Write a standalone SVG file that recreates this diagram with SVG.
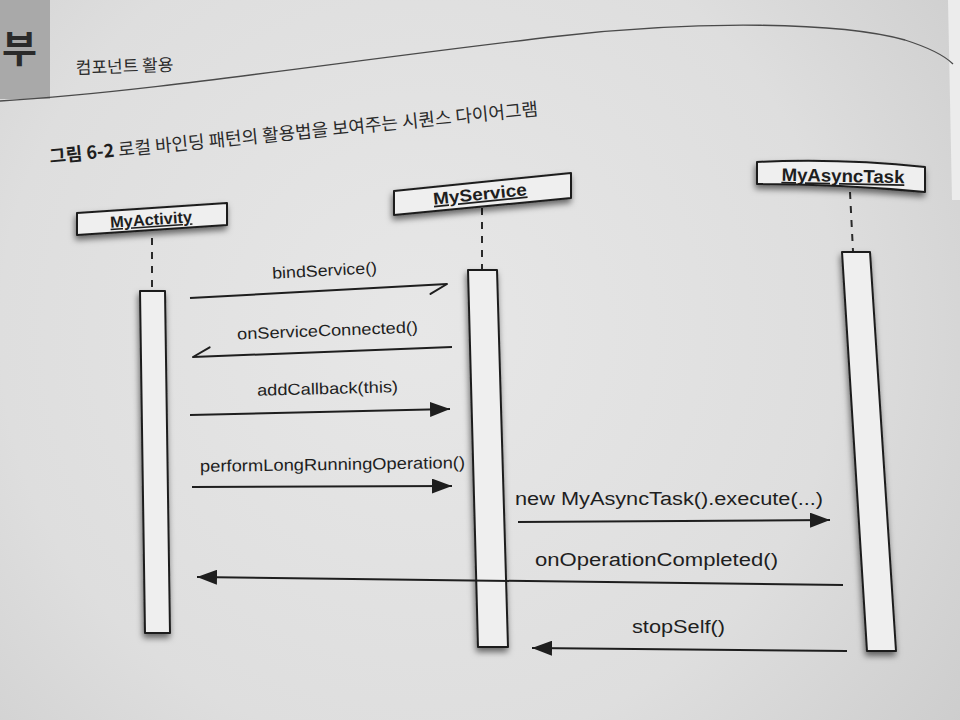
<svg xmlns="http://www.w3.org/2000/svg" width="960" height="720" viewBox="0 0 960 720">
  <defs>
    <radialGradient id="page" cx="420" cy="330" r="700" gradientUnits="userSpaceOnUse">
      <stop offset="0" stop-color="#e7e7e7"/>
      <stop offset="0.6" stop-color="#dedede"/>
      <stop offset="1" stop-color="#cbcbcb"/>
    </radialGradient>
    <filter id="shadow" x="-40%" y="-40%" width="180%" height="180%">
      <feDropShadow dx="-1" dy="4" stdDeviation="3" flood-color="#000" flood-opacity="0.55"/>
    </filter>
    <marker id="arr" markerWidth="20" markerHeight="15" refX="20" refY="7.5" orient="auto" markerUnits="userSpaceOnUse">
      <path d="M0,0 L20,7.5 L0,15 Z" fill="#1e1e1e"/>
    </marker>
    <marker id="half" markerWidth="22" markerHeight="14" refX="19" refY="2" orient="auto" markerUnits="userSpaceOnUse">
      <path d="M19,2 L2,11" stroke="#1e1e1e" stroke-width="2" fill="none" stroke-linecap="round"/>
    </marker>
    <style>
      .box { fill: #efefef; stroke: #1e1e1e; stroke-width: 2; stroke-linejoin: round; }
      .life { stroke: #2a2a2a; stroke-width: 2; stroke-dasharray: 7 7; fill: none; }
      .title { font-family: "Liberation Sans", Arial, sans-serif; font-weight: bold; fill: #1e1e1e; text-anchor: middle; text-decoration: underline; }
      .msg { stroke: #1e1e1e; stroke-width: 2; fill: none; }
      .lbl { font-family: "Liberation Sans", Arial, sans-serif; fill: #1e1e1e; }
      .kr { font-family: "Noto Sans CJK KR", "Noto Sans", sans-serif; fill: #2a2a2a; }
    </style>
  </defs>

  <!-- page -->
  <rect x="0" y="0" width="960" height="720" fill="url(#page)"/>
  <path d="M948,0 L960,0 L960,200 L952,200 Z" fill="#ececec"/>
  <rect x="0" y="0" width="50" height="99" fill="#a9a9a9"/>
  <text x="2" y="62" font-size="38" font-weight="bold" class="kr" fill="#1a1a1a">부</text>
  <path d="M0,101 C150,92 350,60 560,36 C700,20 840,22 905,40 C930,48 945,56 953,64" fill="none" stroke="#4a4a4a" stroke-width="1.3"/>
  <text x="76" y="74" font-size="17" class="kr" transform="rotate(-2 76 74)">컴포넌트 활용</text>
  <text x="50" y="163" font-size="18" class="kr" transform="rotate(-5.6 50 163)"><tspan font-weight="bold" fill="#1e1e1e">그림 6-2</tspan> 로컬 바인딩 패턴의 활용법을 보여주는 시퀀스 다이어그램</text>

  <g id="node-myactivity">
    <line class="life" x1="152" y1="238" x2="152" y2="290"/>
    <polygon class="box" points="77,213 227,203 227,225 77,235" filter="url(#shadow)"/>
    <text class="title" x="151" y="225" font-size="16" textLength="82" lengthAdjust="spacingAndGlyphs" transform="rotate(-3.8 151 219)">MyActivity</text>
    <polygon class="box" points="140,291 165,291 170,633 145,633" filter="url(#shadow)"/>
  </g>

  <g id="node-myservice">
    <line class="life" x1="482" y1="208" x2="482" y2="269"/>
    <polygon class="box" points="394,191 571,173 571,198 394,215" filter="url(#shadow)"/>
    <text class="title" x="480" y="200" font-size="17" textLength="94" lengthAdjust="spacingAndGlyphs" transform="rotate(-5.8 480 194)">MyService</text>
    <polygon class="box" points="468,270 497,270 508,647 478,647" filter="url(#shadow)"/>
  </g>

  <g id="node-myasynctask">
    <line class="life" x1="850" y1="192" x2="853" y2="251"/>
    <path class="box" d="M757,162 Q840,158 925,167 L925,192 Q840,184 757,184 Z" filter="url(#shadow)"/>
    <text class="title" x="843" y="182" font-size="18" textLength="123" lengthAdjust="spacingAndGlyphs" transform="rotate(1.2 843 176)">MyAsyncTask</text>
    <polygon class="box" points="842,252 870,252 896,651 867,651" filter="url(#shadow)"/>
  </g>

  <g id="connectors">
    <line class="msg" x1="190" y1="298" x2="447" y2="284" marker-end="url(#half)"/>
    <text class="lbl" x="272" y="276" font-size="16" textLength="105" lengthAdjust="spacingAndGlyphs" transform="rotate(-3 324 270)">bindService()</text>

    <line class="msg" x1="452" y1="347" x2="193" y2="357" marker-end="url(#half)"/>
    <text class="lbl" x="237" y="336" font-size="16" textLength="181" lengthAdjust="spacingAndGlyphs" transform="rotate(-2.2 327 330)">onServiceConnected()</text>

    <line class="msg" x1="190" y1="415" x2="450" y2="409" marker-end="url(#arr)"/>
    <text class="lbl" x="257" y="394" font-size="16" textLength="141" lengthAdjust="spacingAndGlyphs" transform="rotate(-1.5 327 388)">addCallback(this)</text>

    <line class="msg" x1="192" y1="487" x2="452" y2="486" marker-end="url(#arr)"/>
    <text class="lbl" x="200" y="470" font-size="16.5" textLength="265" lengthAdjust="spacingAndGlyphs" transform="rotate(-0.8 332 465)">performLongRunningOperation()</text>

    <line class="msg" x1="518" y1="522" x2="830" y2="520" marker-end="url(#arr)"/>
    <text class="lbl" x="515" y="505" font-size="18" textLength="308" lengthAdjust="spacingAndGlyphs">new MyAsyncTask().execute(...)</text>

    <line class="msg" x1="843" y1="585" x2="197" y2="577" marker-end="url(#arr)"/>
    <text class="lbl" x="535" y="566" font-size="18" textLength="243" lengthAdjust="spacingAndGlyphs">onOperationCompleted()</text>

    <line class="msg" x1="847" y1="651" x2="532" y2="648" marker-end="url(#arr)"/>
    <text class="lbl" x="632" y="633" font-size="18" textLength="93" lengthAdjust="spacingAndGlyphs">stopSelf()</text>
  </g>
</svg>
